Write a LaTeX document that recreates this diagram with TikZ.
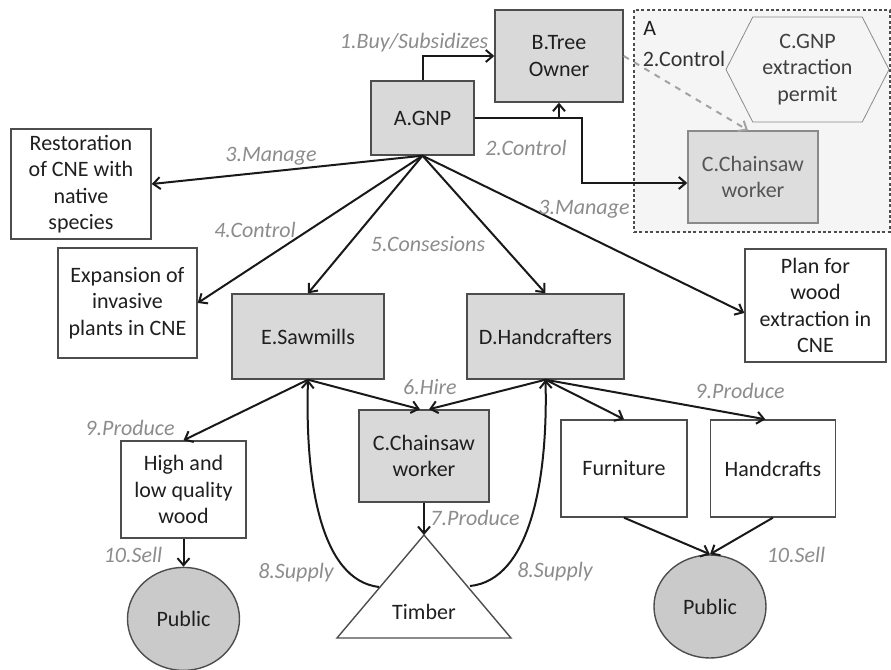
\documentclass[tikz,border=0pt]{standalone}
\usepackage{fontspec}
\setmainfont{Carlito}
\usetikzlibrary{arrows.meta, positioning, shapes.geometric, shapes.symbols}

\definecolor{boxgray}{HTML}{D9D9D9}
\definecolor{pubgray}{HTML}{CACACA}
\definecolor{edgegray}{HTML}{4D4D4D}
\definecolor{lblgray}{HTML}{8C8C8C}
\definecolor{zonegray}{HTML}{F5F5F5}
\definecolor{fadegray}{HTML}{8A8A8A}
\definecolor{fadetext}{HTML}{555555}

\tikzset{
  txt/.style={font=\fontsize{11}{13.25}\selectfont, text=black!88},
  box/.style={txt, draw=edgegray, line width=0.7pt, fill=boxgray, align=center, inner sep=1pt},
  plainbox/.style={box, fill=white},
  fadebox/.style={box, draw=fadegray, fill=boxgray!90, text=fadetext},
  public/.style={txt, ellipse, draw=edgegray, line width=0.7pt, fill=pubgray,
    minimum width=56pt, minimum height=51.5pt},
  lbl/.style={font=\fontsize{11}{13.25}\selectfont\itshape, text=lblgray, inner sep=0pt},
  arr/.style={-{Straight Barb[length=3.5pt,width=6pt]}, line width=1pt, black!90},
  dasharr/.style={arr, dashed, draw=lblgray!80},
}

\begin{document}
\begin{tikzpicture}[x=0.5pt, y=-0.5pt]
  \useasboundingbox (0,0) rectangle (891,670);

  % zone A
  \node[draw=edgegray, fill=zonegray, dash pattern=on 1.5pt off 1.2pt, line width=0.6pt,
    minimum width=128pt, minimum height=111pt] (zone) at (762,121) {};
  \node[txt, anchor=base west, inner sep=0pt] (zonelbl) at (643,35) {A};
  \node[txt, text=black!80, inner sep=0pt] (zonectrl) at (684,59) {2.Control};
  \node[txt, signal, signal to=west and east, signal pointer angle=126, draw=fadegray,
    fill=zonegray, text=black!75, align=center, inner sep=0pt,
    minimum width=81.5pt, minimum height=52.5pt] (permit) at (807.5,69.5)
    {C.GNP\\extraction\\permit};
  \node[fadebox, minimum width=65pt, minimum height=46pt] (cwtop) at (753,177)
    {C.Chainsaw\\worker};

  %Define nodes
  \node[box, minimum width=51.5pt, minimum height=37pt] (gnp) at (422.5,118) {A.GNP};
  \node[box, minimum width=64pt, minimum height=46pt] (owner) at (559,56) {B.Tree\\Owner};
  \node[plainbox, minimum width=70pt, minimum height=55pt] (restor) at (81,184)
    {Restoration\\of CNE with\\native\\species};
  \node[plainbox, minimum width=69.5pt, minimum height=55pt] (expan) at (127.5,303)
    {Expansion of\\invasive\\plants in CNE};
  \node[box, minimum width=76pt, minimum height=42.5pt] (saw) at (308,336.5) {E.Sawmills};
  \node[box, minimum width=78.5pt, minimum height=42.5pt] (hand) at (545.5,336.5) {D.Handcrafters};
  \node[plainbox, minimum width=70.5pt, minimum height=56.5pt] (plan) at (815.5,305.5)
    {Plan for\\wood\\extraction in\\CNE};
  \node[plainbox, minimum width=62.5pt, minimum height=48.5pt] (high) at (183.5,489.5)
    {High and\\low quality\\wood};
  \node[public, below=14pt of high] (pubwood) {Public};
  \node[box, minimum width=65pt, minimum height=46pt] (cwlow) at (424,456) {C.Chainsaw\\worker};
  \node[plainbox, minimum width=63pt, minimum height=48.5pt] (furn) at (624,468.5) {Furniture};
  \node[plainbox, minimum width=62.5pt, minimum height=48.5pt, right=11pt of furn] (crafts) {Handcrafts};
  \node[public] (pubcraft) at (710,606.5) {Public};

  % timber triangle
  \coordinate (tapex) at (424,535);
  \coordinate (tbl) at (337,638);
  \coordinate (tbr) at (511,638);
  \coordinate (tleft) at (379,587);
  \coordinate (tright) at (470,586);
  \draw[edgegray, line width=0.7pt, fill=white] (tapex) -- (tbr) -- (tbl) -- cycle;
  \node[txt] (timber) at (424,612) {Timber};

  % Connect the nodes
  \draw[arr] (gnp.north) |- (owner.west);
  \draw[arr] (gnp.east) -| (owner.south);
  \draw[arr] (gnp.east) -- ++(107,0) |- ([yshift=-3pt]cwtop.west);
  \draw[dasharr] (owner.east) -- ([xshift=-2.5pt]cwtop.north);
  \draw[arr] (gnp.south) -- (restor.east);
  \draw[arr] (gnp.south) -- (expan.east);
  \draw[arr] (gnp.south) -- (saw.north);
  \draw[arr] (gnp.south) -- (hand.north);
  \draw[arr] (gnp.south) -- ([yshift=-3.75pt]plan.west);
  \draw[arr] (saw.south) -- (high.north);
  \draw[arr] (saw.south) -- ([xshift=-2pt]cwlow.north);
  \draw[arr] (hand.south) -- ([xshift=2.5pt]cwlow.north);
  \draw[arr] (hand.south) -- (furn.north);
  \draw[arr] (hand.south) -- ([xshift=-3.75pt]crafts.north);
  \draw[arr] (cwlow.south) -- (tapex);
  \draw[arr] (tleft) .. controls (320,580) and (305,480) .. (saw.south);
  \draw[arr] (tright) .. controls (530,580) and (548,480) .. (hand.south);
  \draw[arr] (high.south) -- (pubwood.north);
  \draw[arr] (furn.south) -- (pubcraft.north);
  \draw[arr] (crafts.south) -- (pubcraft.north);

  % labels
  \node[lbl] (l1) at (414,43) {1.Buy/Subsidizes};
  \node[lbl] (l2) at (526,148) {2.Control};
  \node[lbl] (l3a) at (271,156) {3.Manage};
  \node[lbl] (l3b) at (584,209) {3.Manage};
  \node[lbl] (l4) at (255,230) {4.Control};
  \node[lbl] (l5) at (428,244) {5.Consesions};
  \node[lbl] (l6) at (430,387) {6.Hire};
  \node[lbl] (l7) at (475,518) {7.Produce};
  \node[lbl] (l8a) at (296,573) {8.Supply};
  \node[lbl] (l8b) at (555,572) {8.Supply};
  \node[lbl] (l9a) at (130,428) {9.Produce};
  \node[lbl] (l9b) at (740,391) {9.Produce};
  \node[lbl] (l10a) at (133,555) {10.Sell};
  \node[lbl] (l10b) at (796,555) {10.Sell};
\end{tikzpicture}
\end{document}
